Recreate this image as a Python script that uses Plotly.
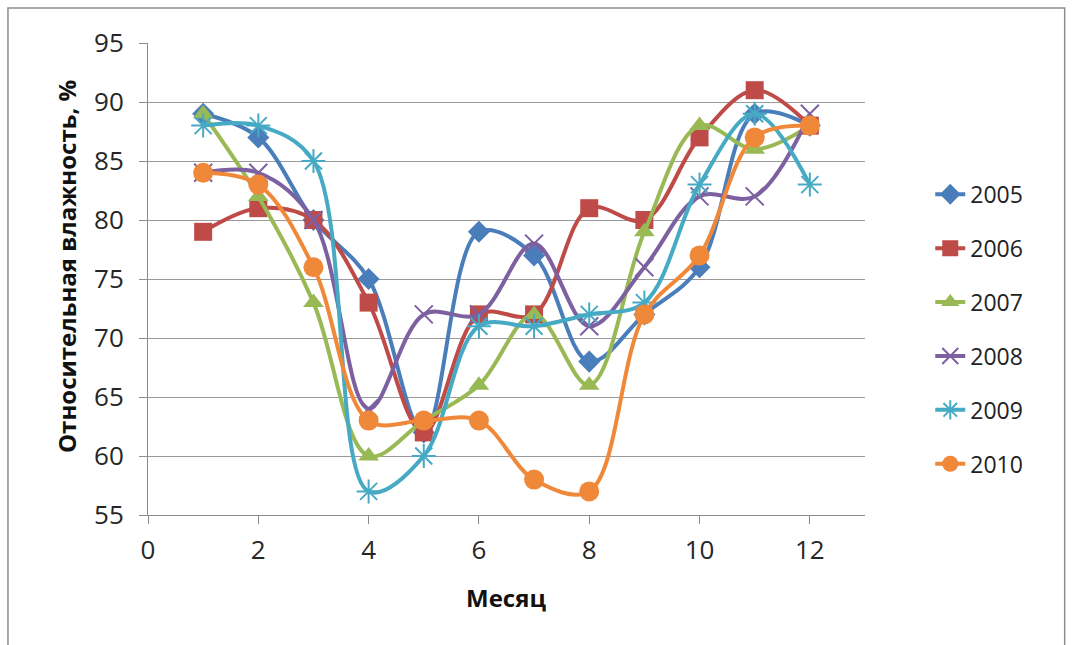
import plotly.graph_objects as go

months = [1, 2, 3, 4, 5, 6, 7, 8, 9, 10, 11, 12]
y2005 = [89, 87, 80, 75, 62, 79, 77, 68, 72, 76, 89, 88]
y2006 = [79, 81, 80, 73, 62, 72, 72, 81, 80, 87, 91, 88]
y2007 = [89, 82, 73, 60, 63, 66, 72, 66, 79, 88, 86, 88]
y2008 = [84, 84, 80, 64, 72, 72, 78, 71, 76, 82, 82, 89]
y2009 = [88, 88, 85, 57, 60, 71, 71, 72, 73, 83, 89, 83]
y2010 = [84, 83, 76, 63, 63, 63, 58, 57, 72, 77, 87, 88]
series_names = ["2005", "2006", "2007", "2008", "2009", "2010"]
x_ticks = [0, 2, 4, 6, 8, 10, 12]
y_ticks = [55, 60, 65, 70, 75, 80, 85, 90, 95]
x_title = "Месяц"
y_title = "Относительная влажность, %"

series = [y2005, y2006, y2007, y2008, y2009, y2010]
colors = ["#4A7EBB", "#BE4B48", "#98B954", "#7D60A0", "#46AAC5", "#F0883A"]
symbols = ["diamond", "square", "triangle-up", "x-thin", "asterisk", "circle"]
sizes = [17, 18, 18, 18, 20, 20]

fig = go.Figure()
for name, ys, c, s, sz in zip(series_names, series, colors, symbols, sizes):
    marker = dict(symbol=s, size=sz, color=c)
    if s in ("x-thin", "asterisk"):
        marker["line"] = dict(color=c, width=2)
    fig.add_trace(go.Scatter(
        x=months, y=ys, name=name, mode="lines+markers",
        line=dict(color=c, width=4, shape="spline", smoothing=1.0),
        marker=marker, legendgroup=name,
    ))

font_family = "Open Sans, Liberation Sans, sans-serif"

fig.update_layout(
    width=1072, height=645,
    margin=dict(l=148, r=207, t=43, b=130),
    paper_bgcolor="white", plot_bgcolor="white",
    font=dict(family=font_family, size=26, color="#262626"),
    xaxis=dict(
        range=[0, 13], tickvals=x_ticks, showgrid=False, zeroline=False,
        showline=True, linecolor="#8C8C8C", linewidth=1,
        ticks="outside", ticklen=8, tickcolor="#8C8C8C",
        tickfont=dict(size=26), ticklabelstandoff=4,
    ),
    yaxis=dict(
        range=[55, 95], tickvals=y_ticks, showgrid=True, gridcolor="#9A9A9A", gridwidth=1,
        zeroline=False, showline=True, linecolor="#8C8C8C", linewidth=1,
        ticks="outside", ticklen=8, tickcolor="#8C8C8C",
        tickfont=dict(size=26), ticklabelstandoff=10,
    ),
    legend=dict(
        x=1.091, y=0.725, xanchor="left", yanchor="top",
        font=dict(size=23, color="#222"), tracegroupgap=21,
        bgcolor="rgba(0,0,0,0)",
    ),
    showlegend=True,
    annotations=[
        dict(text="<b>" + x_title + "</b>", xref="paper", yref="paper",
             x=0.4993, y=-0.1758, xanchor="center", yanchor="middle",
             showarrow=False, font=dict(size=24, color="#111")),
        dict(text="<b>" + y_title + "</b>", xref="paper", yref="paper",
             x=-0.1144, y=0.5275, xanchor="center", yanchor="middle",
             textangle=-90, showarrow=False, font=dict(size=24, color="#111")),
    ],
)

# chart area border
fig.add_shape(type="rect", xref="paper", yref="paper",
              x0=-0.1953, x1=1.2785, y0=-0.2775, y1=1.074,
              line=dict(color="#8C8C8C", width=1.5), fillcolor="rgba(0,0,0,0)", layer="below")

fig.write_html("out.html")
